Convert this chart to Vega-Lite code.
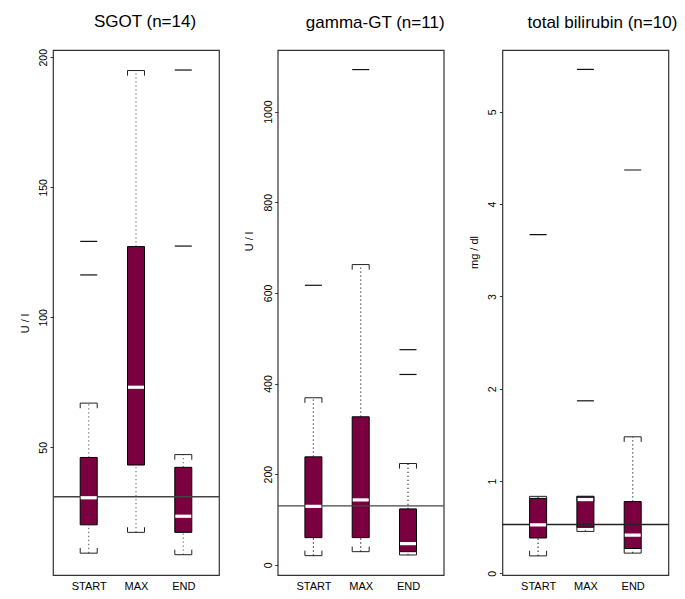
{
  "$schema": "https://vega.github.io/schema/vega-lite/v6.json",
  "autosize": {"type": "pad"},
  "padding": {"left": 18, "top": 11, "right": 5, "bottom": 5},
  "background": "white",
  "bounds": "flush",
  "spacing": 58.7,
  "datasets": {
    "sgot": [
      {"group": "START", "lower": 9.3, "q1": 20.2, "median": 30.6, "q3": 46.1, "upper": 67.0},
      {"group": "MAX", "lower": 17.3, "q1": 43.2, "median": 73.1, "q3": 127.2, "upper": 194.9},
      {"group": "END", "lower": 8.7, "q1": 17.3, "median": 23.5, "q3": 42.3, "upper": 47.2}
    ],
    "sgot_out": [
      {"group": "START", "value": 116.3},
      {"group": "START", "value": 129.2},
      {"group": "END", "value": 127.4},
      {"group": "END", "value": 195.1}
    ],
    "sgot_ref": [{"ref": 31}],
    "ggt": [
      {"group": "START", "lower": 20.2, "q1": 60, "median": 129, "q3": 238.2, "upper": 368.6},
      {"group": "MAX", "lower": 29, "q1": 60, "median": 143.2, "q3": 326.6, "upper": 662.5},
      {"group": "END", "lower": 21.7, "q1": 29, "median": 46.7, "q3": 123.3, "upper": 223.5}
    ],
    "ggt_out": [
      {"group": "START", "value": 616.8},
      {"group": "MAX", "value": 1092.8},
      {"group": "END", "value": 420},
      {"group": "END", "value": 474.7}
    ],
    "ggt_ref": [{"ref": 130}],
    "bili": [
      {"group": "START", "lower": 0.19, "q1": 0.384, "median": 0.525, "q3": 0.813, "upper": 0.835},
      {"group": "MAX", "lower": 0.455, "q1": 0.5, "median": 0.8, "q3": 0.835, "upper": 0.835},
      {"group": "END", "lower": 0.22, "q1": 0.27, "median": 0.415, "q3": 0.778, "upper": 1.48}
    ],
    "bili_out": [
      {"group": "START", "value": 3.67},
      {"group": "MAX", "value": 1.87},
      {"group": "MAX", "value": 5.46},
      {"group": "END", "value": 4.37}
    ],
    "bili_ref": [{"ref": 0.53}]
  },
  "hconcat": [
    {
      "width": 166,
      "height": 525,
      "title": {"text": "SGOT (n=14)", "dx": 9},
      "layer": [
        {
          "data": {"name": "sgot"},
          "mark": {"type": "rule", "color": "#777", "strokeDash": [1.3, 2.7], "strokeWidth": 1.2},
          "encoding": {
            "x": {"field": "group", "type": "nominal", "scale": {"type": "point", "domain": ["START", "MAX", "END"], "padding": 0.755}, "axis": {"title": null}},
            "y": {"field": "q3", "type": "quantitative", "scale": {"domain": [0.9, 202.8], "nice": false, "zero": false}, "axis": {"title": "U / l", "values": [50, 100, 150, 200], "format": "d", "titleY": 273}},
            "y2": {"field": "upper"}
          }
        },
        {
          "data": {"name": "sgot"},
          "mark": {"type": "rule", "color": "#777", "strokeDash": [1.3, 2.7], "strokeWidth": 1.2},
          "encoding": {
            "x": {"field": "group", "type": "nominal"},
            "y": {"field": "lower", "type": "quantitative"},
            "y2": {"field": "q1"}
          }
        },
        {
          "data": {"name": "sgot"},
          "mark": {"type": "bar", "size": 17, "fill": "#7a0040", "stroke": "#000", "strokeWidth": 1},
          "encoding": {
            "x": {"field": "group", "type": "nominal"},
            "y": {"field": "q1", "type": "quantitative"},
            "y2": {"field": "q3"}
          }
        },
        {
          "data": {"name": "sgot_ref"},
          "mark": {"type": "rule", "color": "#444", "strokeWidth": 1.4},
          "encoding": {"y": {"field": "ref", "type": "quantitative"}}
        },
        {
          "data": {"name": "sgot"},
          "mark": {"type": "tick", "color": "#ffffff", "size": 16, "thickness": 3.2, "opacity": 1},
          "encoding": {
            "x": {"field": "group", "type": "nominal"},
            "y": {"field": "median", "type": "quantitative"}
          }
        },
        {
          "data": {"name": "sgot"},
          "mark": {"type": "point", "shape": "M-1,0.6L-1,0L1,0L1,0.6", "size": 289, "filled": false, "stroke": "#222", "strokeWidth": 1, "opacity": 1},
          "encoding": {
            "x": {"field": "group", "type": "nominal"},
            "y": {"field": "upper", "type": "quantitative"}
          }
        },
        {
          "data": {"name": "sgot"},
          "mark": {"type": "point", "shape": "M-1,-0.6L-1,0L1,0L1,-0.6", "size": 289, "filled": false, "stroke": "#222", "strokeWidth": 1, "opacity": 1},
          "encoding": {
            "x": {"field": "group", "type": "nominal"},
            "y": {"field": "lower", "type": "quantitative"}
          }
        },
        {
          "data": {"name": "sgot_out"},
          "mark": {"type": "tick", "color": "#111", "size": 17, "thickness": 1.2, "opacity": 1},
          "encoding": {
            "x": {"field": "group", "type": "nominal"},
            "y": {"field": "value", "type": "quantitative"}
          }
        }
      ]
    },
    {
      "width": 166,
      "height": 525,
      "title": {"text": "gamma-GT (n=11)", "dx": 14.5},
      "layer": [
        {
          "data": {"name": "ggt"},
          "mark": {"type": "rule", "color": "#444", "strokeDash": [1.3, 2.7], "strokeWidth": 1.2},
          "encoding": {
            "x": {"field": "group", "type": "nominal", "scale": {"type": "point", "domain": ["START", "MAX", "END"], "padding": 0.755}, "axis": {"title": null}},
            "y": {"field": "q3", "type": "quantitative", "scale": {"domain": [-22.5, 1136], "nice": false, "zero": false}, "axis": {"title": "U / l", "values": [0, 200, 400, 600, 800, 1000], "format": "d", "titleY": 191}},
            "y2": {"field": "upper"}
          }
        },
        {
          "data": {"name": "ggt"},
          "mark": {"type": "rule", "color": "#444", "strokeDash": [1.3, 2.7], "strokeWidth": 1.2},
          "encoding": {
            "x": {"field": "group", "type": "nominal"},
            "y": {"field": "lower", "type": "quantitative"},
            "y2": {"field": "q1"}
          }
        },
        {
          "data": {"name": "ggt"},
          "mark": {"type": "bar", "size": 17, "fill": "#7a0040", "stroke": "#000", "strokeWidth": 1},
          "encoding": {
            "x": {"field": "group", "type": "nominal"},
            "y": {"field": "q1", "type": "quantitative"},
            "y2": {"field": "q3"}
          }
        },
        {
          "data": {"name": "ggt_ref"},
          "mark": {"type": "rule", "color": "#444", "strokeWidth": 1.4},
          "encoding": {"y": {"field": "ref", "type": "quantitative"}}
        },
        {
          "data": {"name": "ggt"},
          "mark": {"type": "tick", "color": "#ffffff", "size": 16, "thickness": 3.2, "opacity": 1},
          "encoding": {
            "x": {"field": "group", "type": "nominal"},
            "y": {"field": "median", "type": "quantitative"}
          }
        },
        {
          "data": {"name": "ggt"},
          "mark": {"type": "point", "shape": "M-1,0.6L-1,0L1,0L1,0.6", "size": 289, "filled": false, "stroke": "#222", "strokeWidth": 1, "opacity": 1},
          "encoding": {
            "x": {"field": "group", "type": "nominal"},
            "y": {"field": "upper", "type": "quantitative"}
          }
        },
        {
          "data": {"name": "ggt"},
          "mark": {"type": "point", "shape": "M-1,-0.6L-1,0L1,0L1,-0.6", "size": 289, "filled": false, "stroke": "#222", "strokeWidth": 1, "opacity": 1},
          "encoding": {
            "x": {"field": "group", "type": "nominal"},
            "y": {"field": "lower", "type": "quantitative"}
          }
        },
        {
          "data": {"name": "ggt_out"},
          "mark": {"type": "tick", "color": "#111", "size": 17, "thickness": 1.2, "opacity": 1},
          "encoding": {
            "x": {"field": "group", "type": "nominal"},
            "y": {"field": "value", "type": "quantitative"}
          }
        }
      ]
    },
    {
      "width": 166,
      "height": 525,
      "title": {"text": "total bilirubin (n=10)", "dx": 17},
      "layer": [
        {
          "data": {"name": "bili"},
          "mark": {"type": "rule", "color": "#444", "strokeDash": [1.3, 2.7], "strokeWidth": 1.2},
          "encoding": {
            "x": {"field": "group", "type": "nominal", "scale": {"type": "point", "domain": ["START", "MAX", "END"], "padding": 0.755}, "axis": {"title": null}},
            "y": {"field": "q3", "type": "quantitative", "scale": {"domain": [-0.017, 5.67], "nice": false, "zero": false}, "axis": {"title": "mg / dl", "values": [0, 1, 2, 3, 4, 5], "format": "d", "titleY": 202}},
            "y2": {"field": "upper"}
          }
        },
        {
          "data": {"name": "bili"},
          "mark": {"type": "rule", "color": "#444", "strokeDash": [1.3, 2.7], "strokeWidth": 1.2},
          "encoding": {
            "x": {"field": "group", "type": "nominal"},
            "y": {"field": "lower", "type": "quantitative"},
            "y2": {"field": "q1"}
          }
        },
        {
          "data": {"name": "bili"},
          "mark": {"type": "bar", "size": 17, "fill": "#7a0040", "stroke": "#000", "strokeWidth": 1},
          "encoding": {
            "x": {"field": "group", "type": "nominal"},
            "y": {"field": "q1", "type": "quantitative"},
            "y2": {"field": "q3"}
          }
        },
        {
          "data": {"name": "bili_ref"},
          "mark": {"type": "rule", "color": "#222", "strokeWidth": 1.4},
          "encoding": {"y": {"field": "ref", "type": "quantitative"}}
        },
        {
          "data": {"name": "bili"},
          "mark": {"type": "tick", "color": "#ffffff", "size": 16, "thickness": 3.2, "opacity": 1},
          "encoding": {
            "x": {"field": "group", "type": "nominal"},
            "y": {"field": "median", "type": "quantitative"}
          }
        },
        {
          "data": {"name": "bili"},
          "mark": {"type": "point", "shape": "M-1,0.6L-1,0L1,0L1,0.6", "size": 289, "filled": false, "stroke": "#222", "strokeWidth": 1, "opacity": 1},
          "encoding": {
            "x": {"field": "group", "type": "nominal"},
            "y": {"field": "upper", "type": "quantitative"}
          }
        },
        {
          "data": {"name": "bili"},
          "mark": {"type": "point", "shape": "M-1,-0.6L-1,0L1,0L1,-0.6", "size": 289, "filled": false, "stroke": "#222", "strokeWidth": 1, "opacity": 1},
          "encoding": {
            "x": {"field": "group", "type": "nominal"},
            "y": {"field": "lower", "type": "quantitative"}
          }
        },
        {
          "data": {"name": "bili_out"},
          "mark": {"type": "tick", "color": "#111", "size": 17, "thickness": 1.2, "opacity": 1},
          "encoding": {
            "x": {"field": "group", "type": "nominal"},
            "y": {"field": "value", "type": "quantitative"}
          }
        }
      ]
    }
  ],
  "config": {
    "font": "Liberation Sans",
    "view": {"stroke": "#333", "strokeWidth": 1.2},
    "title": {"fontSize": 17, "font": "Liberation Sans", "fontWeight": "normal", "anchor": "middle", "offset": 18, "color": "#000"},
    "axis": {"grid": false, "domain": false, "labelFont": "Liberation Sans", "titleFont": "Liberation Sans", "labelColor": "#000", "titleColor": "#000", "tickColor": "#333", "labelOverlap": false, "labelFlush": false, "titleFontWeight": "normal"},
    "axisY": {"labelAngle": -90, "labelAlign": "center", "labelBaseline": "bottom", "labelFontSize": 10.5, "tickSize": 3, "labelPadding": 1.5, "titleFontSize": 11, "titleX": -28, "titleBaseline": "middle", "titleAngle": -90},
    "axisX": {"ticks": false, "labelFontSize": 11, "labelPadding": 5, "labelAngle": 0}
  }
}
